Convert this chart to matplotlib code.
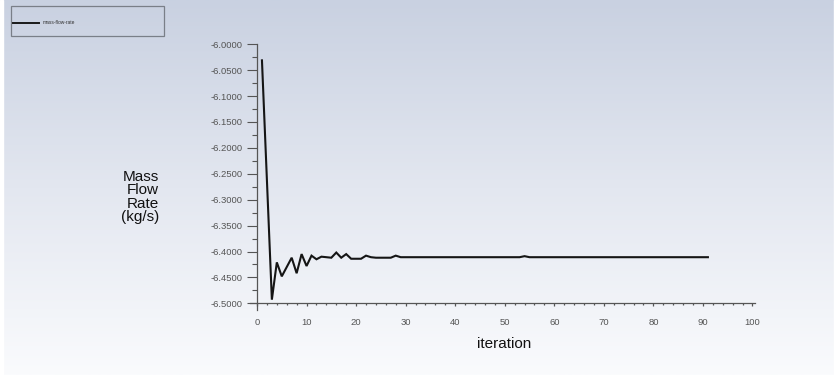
import numpy as np
import matplotlib
matplotlib.use("Agg")
import matplotlib.pyplot as plt
from matplotlib.colors import LinearSegmentedColormap
from matplotlib.ticker import MultipleLocator, FormatStrFormatter
from matplotlib.lines import Line2D
from matplotlib.patches import Rectangle

# ---- data ----
iterations = list(range(1, 30)) + [53, 54, 55, 91]
mass_flow = [-6.031, -6.262, -6.493, -6.421, -6.448, -6.430, -6.412, -6.442, -6.405,
             -6.428, -6.408, -6.415, -6.410, -6.411, -6.412, -6.402, -6.412, -6.405,
             -6.414, -6.414, -6.414, -6.408, -6.411, -6.412, -6.412, -6.412, -6.412,
             -6.408, -6.411, -6.411, -6.409, -6.411, -6.411]
series_name = "mass-flow-rate"
x_label = "iteration"
y_label = "Mass\nFlow\nRate\n(kg/s)"

W, H = 837, 375
fig = plt.figure(figsize=(W / 100, H / 100), dpi=100)
plt.rcParams['font.family'] = ['Liberation Sans', 'DejaVu Sans']

# background gradient
bg = fig.add_axes([0, 0, 1, 1], zorder=-10)
cmap = LinearSegmentedColormap.from_list("bg", [(0, "#c9d1e1"), (0.5, "#e3e7f0"), (1, "#fafbfd")])
grad = np.linspace(0, 1, 256).reshape(-1, 1)
bg.imshow(grad, aspect="auto", cmap=cmap, extent=[0, 1, 0, 1], origin="upper")
bg.add_patch(Rectangle((0, 0), 3 / W, 1, color="white", transform=bg.transAxes))
bg.add_patch(Rectangle((1 - 3 / W, 0), 3 / W, 1, color="white", transform=bg.transAxes))
bg.set_xlim(0, 1); bg.set_ylim(0, 1)
bg.axis("off")

# legend box
bg.add_patch(Rectangle((11 / W, 1 - 35.7 / H), 153 / W, 30 / H, fill=False,
                       edgecolor="#7a7f88", linewidth=0.9, transform=bg.transAxes))
bg.add_line(Line2D([13 / W, 39 / W], [1 - 22.7 / H] * 2, color="#1a1a1a", linewidth=1.4,
                   transform=bg.transAxes))
bg.text(43 / W, 1 - 22.7 / H, series_name, fontsize=3.5, color="#333333", va="center",
        ha="left", transform=bg.transAxes)

# main axes
x0, x1 = -1.5, 100.5
y0, y1 = -6.5135, -6.0
left_px = 257 - 1.5 * 4.955
right_px = 752.5 + 0.5 * 4.955
top_px = 44.3
bot_px = 303.3 + 0.0135 * 518
ax = fig.add_axes([left_px / W, 1 - bot_px / H, (right_px - left_px) / W, (bot_px - top_px) / H])
ax.patch.set_alpha(0)
ax.plot(iterations, mass_flow, color="#151515", linewidth=1.5, solid_joinstyle="miter")
ax.set_xlim(x0, x1)
ax.set_ylim(y0, y1)

for s in ["top", "right"]:
    ax.spines[s].set_visible(False)
ax.spines["left"].set_position(("data", 0))
ax.spines["bottom"].set_position(("data", -6.5))
for s in ["left", "bottom"]:
    ax.spines[s].set_color("#555555")
    ax.spines[s].set_linewidth(0.9)

ax.xaxis.set_major_locator(MultipleLocator(10))
ax.xaxis.set_minor_locator(MultipleLocator(2))
ax.yaxis.set_major_locator(MultipleLocator(0.05))
ax.yaxis.set_minor_locator(MultipleLocator(0.025))
ax.yaxis.set_major_formatter(FormatStrFormatter("%.4f"))
ax.set_yticks(np.round(np.arange(-6.5, -5.999, 0.05), 4))

ax.tick_params(axis="y", which="major", direction="out", length=7.2, width=0.8,
               color="#555555", labelsize=6.8, labelcolor="#555555", pad=3)
ax.tick_params(axis="y", which="minor", direction="out", length=3.6, width=0.8, color="#555555")
ax.tick_params(axis="x", which="major", direction="out", length=2.5, width=0.9,
               color="#555555", labelsize=6.8, labelcolor="#555555", pad=8)
ax.tick_params(axis="x", which="minor", direction="out", length=1.6, width=0.9, color="#555555")

ax.set_xlabel(x_label, fontsize=11, color="#111111", va="center")
ax.xaxis.set_label_coords((504 - left_px) / (right_px - left_px), (bot_px - 344) / (bot_px - top_px))

fig.text(159 / W, 1 - 197 / H, y_label, fontsize=11, color="#111111", ha="right",
         va="center", multialignment="right", linespacing=0.95)

fig.savefig("out.png", dpi=100)
